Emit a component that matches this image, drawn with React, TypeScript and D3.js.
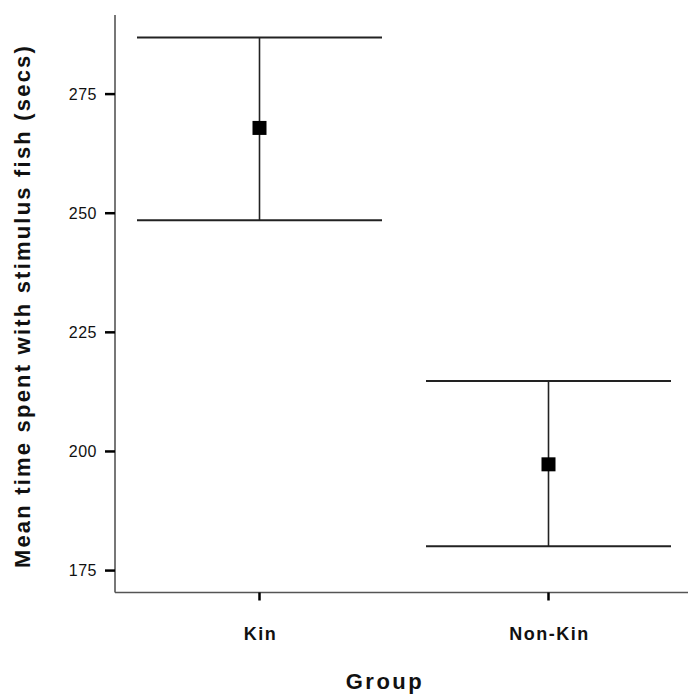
import React from "react";
import * as d3 from "d3";

const categories = ["Kin", "Non-Kin"];
const means = [267.9, 197.3];
const upper = [286.9, 214.8];
const lower = [248.5, 180.1];
const yTicks = [175, 200, 225, 250, 275];
const xTitle = "Group";
const yTitle = "Mean time spent with stimulus fish (secs)";

const W = 688;
const H = 696;

export default function App() {
  const axisX = 115;
  const axisY = 592.5;
  const x = d3.scalePoint<string>().domain(categories).range([axisX, 693]).padding(0.5);
  const y = d3.scaleLinear().domain([170.4, 291.6]).range([axisY, 15]);
  const capHalf = 122.5;
  const font = "Liberation Sans, Arial, sans-serif";
  return (
    <svg width={W} height={H} style={{ position: "absolute", left: 0, top: 0, background: "#fff" }}>
      <line x1={axisX} x2={axisX} y1={15} y2={axisY} stroke="#555" strokeWidth={1.6} />
      <line x1={axisX} x2={W} y1={axisY} y2={axisY} stroke="#555" strokeWidth={1.6} />
      {yTicks.map((t) => (
        <g key={t}>
          <line x1={axisX - 10} x2={axisX} y1={y(t)} y2={y(t)} stroke="#000" strokeWidth={2.5} />
          <text x={97} y={y(t)} dy="0.35em" textAnchor="end" fontFamily={font} fontSize={16} letterSpacing={0.5} fill="#111">
            {t}
          </text>
        </g>
      ))}
      {categories.map((c, i) => {
        const cx = x(c)!;
        return (
          <g key={c}>
            <line x1={cx} x2={cx} y1={axisY} y2={axisY + 8} stroke="#000" strokeWidth={2.5} />
            <text x={cx + 1} y={634} dy="0.35em" textAnchor="middle" fontFamily={font} fontWeight="bold" fontSize={18} letterSpacing={1.5} fill="#111">
              {c}
            </text>
            <line x1={cx} x2={cx} y1={y(upper[i])} y2={y(lower[i])} stroke="#222" strokeWidth={1.6} />
            <line x1={cx - capHalf} x2={cx + capHalf} y1={y(upper[i])} y2={y(upper[i])} stroke="#222" strokeWidth={2} />
            <line x1={cx - capHalf} x2={cx + capHalf} y1={y(lower[i])} y2={y(lower[i])} stroke="#222" strokeWidth={2} />
            <rect x={cx - 7} y={y(means[i]) - 7} width={14} height={14} fill="#000" />
          </g>
        );
      })}
      <text x={385} y={681} dy="0.35em" textAnchor="middle" fontFamily={font} fontWeight="bold" fontSize={22} letterSpacing={2.5} fill="#111">
        {xTitle}
      </text>
      <text
        transform={`translate(22,306) rotate(-90)`}
        dy="0.35em"
        textAnchor="middle"
        fontFamily={font}
        fontWeight="bold"
        fontSize={22}
        letterSpacing={2.2}
        fill="#111"
      >
        {yTitle}
      </text>
    </svg>
  );
}
